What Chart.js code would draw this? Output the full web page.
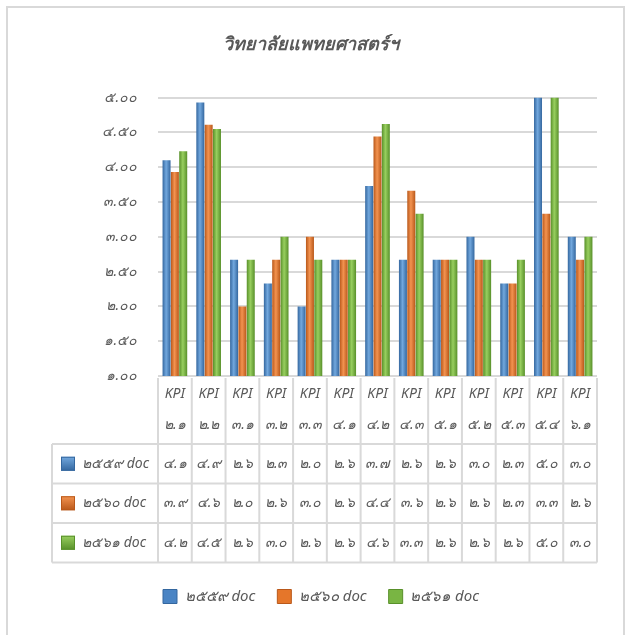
<!DOCTYPE html>
<html>
<head>
<meta charset="utf-8">
<script src="https://cdn.jsdelivr.net/npm/chart.js@4.4.0/dist/chart.umd.min.js"></script>
<style>
  html, body { margin: 0; padding: 0; background: #fff; }
</style>
</head>
<body>
<canvas id="kpiChart" width="625" height="635"></canvas>
<script>
// =====================
// ข้อมูล
// =====================
const kpiCodes = ['๒.๑', '๒.๒', '๓.๑', '๓.๒', '๓.๓', '๔.๑', '๔.๒', '๔.๓', '๕.๑', '๕.๒', '๕.๓', '๕.๔', '๖.๑'];
const seriesNames = ['๒๕๕๙ doc', '๒๕๖๐ doc', '๒๕๖๑ doc'];
const values2559 = [4.1, 4.93, 2.67, 2.33, 2.0, 2.67, 3.73, 2.67, 2.67, 3.0, 2.33, 5.0, 3.0];
const values2560 = [3.93, 4.61, 2.0, 2.67, 3.0, 2.67, 4.44, 3.66, 2.67, 2.67, 2.33, 3.33, 2.67];
const values2561 = [4.23, 4.55, 2.67, 3.0, 2.67, 2.67, 4.62, 3.33, 2.67, 2.67, 2.67, 5.0, 3.0];
const yMin = 1, yMax = 5, yStep = 0.5;

const titleText = 'วิทยาลัยแพทยศาสตร์ฯ';
const textColor = '#595959';
const lineColor = '#d9d9d9';
const fontFamily = "Tahoma, 'Noto Sans', 'DejaVu Sans', sans-serif";

// สีแท่ง (ขอบเข้ม / กลางสว่าง)
const palette = [
  { base: '#4a84c4', dark: '#34679f', light: '#72a8de' },
  { base: '#e5762a', dark: '#b9581a', light: '#f39350' },
  { base: '#79b543', dark: '#58902a', light: '#98cf5f' }
];

// =====================
// Helpers
// =====================
const thaiDigits = '๐๑๒๓๔๕๖๗๘๙';
const toThai = s => String(s).replace(/[0-9]/g, d => thaiDigits[d]);
const cellText = v => toThai((Math.floor(v * 10 + 1e-6) / 10).toFixed(1));

function barFill(i) {
  return (c) => {
    const p = palette[i];
    const el = c.chart.getDatasetMeta(c.datasetIndex).data[c.dataIndex];
    if (!el || el.width == null || isNaN(el.x)) return p.base;
    const g = c.chart.ctx.createLinearGradient(el.x - el.width / 2, 0, el.x + el.width / 2, 0);
    g.addColorStop(0, p.dark);
    g.addColorStop(0.45, p.light);
    g.addColorStop(1, p.dark);
    return g;
  };
}

function keyBox(c, x, y, size, p) {
  const g = c.createLinearGradient(0, y, 0, y + size);
  g.addColorStop(0, p.light);
  g.addColorStop(1, p.dark);
  c.fillStyle = g;
  c.fillRect(x, y, size, size);
  c.strokeStyle = p.dark;
  c.lineWidth = 1;
  c.strokeRect(x + 0.5, y + 0.5, size - 1, size - 1);
}

// =====================
// ตารางข้อมูล + กรอบ
// =====================
const tablePlugin = {
  id: 'dataTable',
  afterLayout(chart) {
    // legend ในต้นฉบับเยื้องไปทางขวาเล็กน้อย
    if (chart.legend) { chart.legend.left += 10; chart.legend.right += 10; }
  },
  beforeDraw(chart) {
    const c = chart.ctx;
    c.save();
    c.fillStyle = '#fff';
    c.fillRect(0, 0, chart.width, chart.height);
    c.strokeStyle = lineColor;
    c.lineWidth = 2;
    c.beginPath();
    c.moveTo(7, chart.height + 5); c.lineTo(7, 7); c.lineTo(624, 7); c.lineTo(624, chart.height + 5);
    c.stroke();
    c.restore();
  },
  afterDraw(chart) {
    const c = chart.ctx, xs = chart.scales.x, area = chart.chartArea;
    const n = kpiCodes.length;
    const half = (xs.getPixelForValue(1) - xs.getPixelForValue(0)) / 2;
    const left = xs.getPixelForValue(0) - half;
    const right = xs.getPixelForValue(n - 1) + half;
    const headTop = area.bottom + 2;
    const rowTop = headTop + 66;
    const rowH = 39.5;
    const tableLeft = 52;
    const series = [values2559, values2560, values2561];

    c.save();
    c.strokeStyle = lineColor;
    c.lineWidth = 2;
    c.beginPath();
    // เส้นแนวตั้ง
    for (let i = 0; i <= n; i++) {
      const x = left + i * half * 2;
      c.moveTo(x, headTop); c.lineTo(x, rowTop + rowH * 3);
    }
    c.moveTo(tableLeft, rowTop); c.lineTo(tableLeft, rowTop + rowH * 3);
    // เส้นแนวนอน
    for (let r = 0; r <= 3; r++) {
      const y = rowTop + r * rowH;
      c.moveTo(tableLeft, y); c.lineTo(right, y);
    }
    c.stroke();

    c.font = 'italic 14px ' + fontFamily;
    c.textBaseline = 'middle';
    series.forEach((vals, r) => {
      const yMid = rowTop + r * rowH + rowH / 2;
      keyBox(c, 61, yMid - 7, 14, palette[r]);
      c.fillStyle = textColor;
      c.textAlign = 'left';
      c.fillText(seriesNames[r], 82, yMid);
      c.textAlign = 'center';
      vals.forEach((v, i) => c.fillText(cellText(v), xs.getPixelForValue(i), yMid));
    });
    c.restore();
  }
};

// =====================
// Chart
// =====================
const ctx = document.getElementById('kpiChart').getContext('2d');
const kpiChart = new Chart(ctx, {
  type: 'bar',
  data: {
    labels: kpiCodes.map(k => ['KPI', k]),
    datasets: [values2559, values2560, values2561].map((vals, i) => ({
      label: seriesNames[i],
      data: vals,
      backgroundColor: barFill(i),
      borderWidth: 0,
      categoryPercentage: 0.74,
      barPercentage: 0.96
    }))
  },
  options: {
    responsive: false,
    animation: false,
    layout: { padding: { left: 25, right: 28, top: 0, bottom: 21 } },
    plugins: {
      title: {
        display: true,
        text: titleText,
        color: textColor,
        font: { family: fontFamily, size: 18, weight: 'bold', style: 'italic' },
        padding: { top: 34, bottom: 42 }
      },
      legend: {
        position: 'bottom',
        labels: {
          color: textColor,
          font: { family: fontFamily, size: 15, style: 'italic' },
          boxWidth: 14,
          boxHeight: 14,
          padding: 22,
          generateLabels: (chart) => chart.data.datasets.map((d, i) => ({
            text: d.label,
            fillStyle: palette[i].base,
            strokeStyle: palette[i].dark,
            lineWidth: 1,
            fontColor: textColor,
            datasetIndex: i
          }))
        }
      },
      tooltip: { enabled: false }
    },
    scales: {
      x: {
        grid: { display: false },
        border: { display: false },
        ticks: {
          color: textColor,
          font: { family: fontFamily, size: 14, style: 'italic', lineHeight: 2.2 },
          padding: -5,
          maxRotation: 0,
          autoSkip: false
        },
        afterFit: (s) => { s.height = 191; }
      },
      y: {
        min: yMin,
        max: yMax,
        grid: { color: lineColor, lineWidth: 2, drawTicks: false },
        border: { display: false },
        ticks: {
          stepSize: yStep,
          padding: 21,
          color: textColor,
          font: { family: fontFamily, size: 14, style: 'italic' },
          callback: (v) => toThai(Number(v).toFixed(2))
        },
        afterFit: (s) => { s.width = 133; }
      }
    }
  },
  plugins: [tablePlugin]
});
// วาดซ้ำเพื่อให้ gradient ใช้ตำแหน่งแท่งจริง
kpiChart.update('none');
</script>
</body>
</html>
